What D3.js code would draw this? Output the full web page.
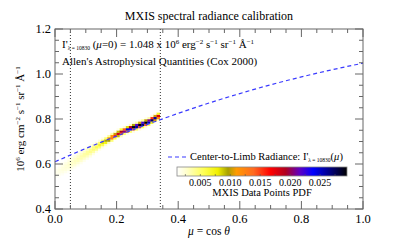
<!DOCTYPE html>
<html><head><meta charset="utf-8">
<script src="https://cdn.jsdelivr.net/npm/d3@7"></script>
<style>
body{margin:0;background:#fff;}
svg{display:block;}
text{font-family:"Liberation Serif","DejaVu Serif",serif;}
</style></head>
<body><svg id="c" width="394" height="244"></svg>
<script>
// ---- data ----
const curveMu = [0,0.1,0.2,0.3,0.4,0.5,0.6,0.7,0.8,0.9,1.0];
const curveI  = [0.610,0.669,0.724,0.776,0.825,0.871,0.913,0.952,0.987,1.019,1.048];
// heat-map columns (mu bins of 0.01 starting at 0)
const colCenter = [0.565,0.572,0.580,0.588,0.596,0.605,0.614,0.623,0.632,0.641,
                   0.650,0.659,0.668,0.677,0.686,0.695,0.703,0.711,0.719,0.727,
                   0.735,0.742,0.748,0.754,0.759,0.764,0.769,0.774,0.779,0.784,
                   0.789,0.797,0.805,0.813];
const colWidth  = [0.028,0.028,0.027,0.026,0.025,0.024,0.023,0.022,0.021,0.020,
                   0.019,0.018,0.016,0.014,0.012,0.011,0.010,0.009,0.009,0.008,
                   0.008,0.008,0.007,0.007,0.007,0.007,0.007,0.007,0.007,0.007,
                   0.007,0.007,0.007,0.008];
const colPeak   = [0.0016,0.0018,0.0020,0.0022,0.0024,0.0026,0.0028,0.0030,0.0032,0.0034,
                   0.0037,0.0040,0.0045,0.0052,0.0062,0.0075,0.0090,0.0110,0.0130,0.0150,
                   0.0170,0.0190,0.0210,0.0230,0.0250,0.0270,0.0280,0.0290,0.0290,0.0280,
                   0.0270,0.0260,0.0240,0.0170];
const xTicks = [0.0,0.2,0.4,0.6,0.8,1.0];
const yTicks = [0.4,0.6,0.8,1.0,1.2];
const cbTicks = [0.005,0.010,0.015,0.020,0.025];
const limbLines = [0.05,0.342];

// ---- layout ----
const svg = d3.select("#c");
const L=55,R=363,T=29,B=209;
const x = d3.scaleLinear().domain([0,1]).range([L,R]);
const y = d3.scaleLinear().domain([0.4,1.2]).range([B,T]);

const cmin = 0.0011, cmax = 0.0295;
const stops = [[0,"#ffffff"],[0.06,"#ffffc8"],[0.16,"#ffff50"],[0.24,"#f0f000"],[0.30,"#a8a000"],
  [0.35,"#ff9a00"],[0.45,"#ff6a20"],[0.55,"#ff0000"],[0.64,"#b00020"],[0.72,"#6000c0"],
  [0.80,"#0000ff"],[0.90,"#000080"],[1,"#000000"]];
const color = d3.scaleLinear().domain(stops.map(s=>cmin+s[0]*(cmax-cmin))).range(stops.map(s=>s[1])).clamp(true);

// heat map cells
const cells=[];
const dI=0.01, dMu=0.01;
colCenter.forEach((c,i)=>{
  for(let v=0.50; v<0.86; v+=dI){
    const d=(v+dI/2)-c, w=colWidth[i];
    const val=colPeak[i]*Math.exp(-d*d/(2*w*w)) + 0.08*colPeak[i]*Math.exp(-d*d/(2*9*w*w));
    if(val>0.0005) cells.push({mu:i*dMu,v:v,val:val});
  }
});
svg.append("g").selectAll("rect").data(cells).join("rect")
  .attr("x",d=>x(d.mu)).attr("y",d=>y(d.v+dI))
  .attr("width",x(dMu)-x(0)+0.3).attr("height",y(0.4)-y(0.4+dI)+0.3)
  .attr("fill",d=>color(d.val));

// dotted limb lines
svg.append("g").selectAll("line").data(limbLines).join("line")
  .attr("x1",d=>x(d)).attr("x2",d=>x(d)).attr("y1",T).attr("y2",B)
  .attr("stroke","#333").attr("stroke-width",1).attr("stroke-dasharray","1,2");

// curve
const line=d3.line().x(d=>x(d[0])).y(d=>y(d[1])).curve(d3.curveMonotoneX);
svg.append("path").datum(curveMu.map((m,i)=>[m,curveI[i]]))
  .attr("d",line).attr("fill","none").attr("stroke","#3a3aff").attr("stroke-width",1.2)
  .attr("stroke-dasharray","4,3");

// axes frame and ticks
const ax=svg.append("g").attr("stroke","#666").attr("fill","none");
ax.append("rect").attr("x",L).attr("y",T).attr("width",R-L).attr("height",B-T).attr("stroke-width",1);
const xMinor=d3.range(0,1.0001,0.05), yMinor=d3.range(0.4,1.2001,0.05);
xMinor.forEach(m=>{
  const major=Math.abs(m/0.2-Math.round(m/0.2))<1e-6;
  const len=major?8:4;
  ax.append("line").attr("x1",x(m)).attr("x2",x(m)).attr("y1",B).attr("y2",B-len);
  ax.append("line").attr("x1",x(m)).attr("x2",x(m)).attr("y1",T).attr("y2",T+len);
});
yMinor.forEach(m=>{
  const major=Math.abs(m/0.2-Math.round(m/0.2))<1e-6;
  const len=major?8:4;
  ax.append("line").attr("y1",y(m)).attr("y2",y(m)).attr("x1",L).attr("x2",L+len);
  ax.append("line").attr("y1",y(m)).attr("y2",y(m)).attr("x1",R).attr("x2",R-len);
});
svg.append("g").selectAll("text").data(xTicks).join("text")
  .attr("x",d=>x(d)).attr("y",B+14).attr("text-anchor","middle").attr("font-size",12.5)
  .text(d=>d.toFixed(1));
svg.append("g").selectAll("text").data(yTicks).join("text")
  .attr("x",L-4).attr("y",d=>y(d)+4).attr("text-anchor","end").attr("font-size",12.5)
  .text(d=>d.toFixed(1));

// title
svg.append("text").attr("x",(L+R)/2).attr("y",20).attr("text-anchor","middle")
  .attr("font-size",12).text("MXIS spectral radiance calibration");

// x label
const xl=svg.append("text").attr("x",(L+R)/2).attr("y",235).attr("text-anchor","middle").attr("font-size",11.5);
xl.append("tspan").attr("font-style","italic").text("μ");
xl.append("tspan").text(" = cos ");
xl.append("tspan").attr("font-style","italic").text("θ");

// y label
const yl=svg.append("text").attr("transform",`translate(24,${(T+B)/2}) rotate(-90)`)
  .attr("text-anchor","middle").attr("font-size",11);
function sup(t,s){t.append("tspan").attr("dy",-4).attr("font-size",7).text(s);}
function base(t,s){t.append("tspan").attr("dy",4).text(s);}
yl.append("tspan").text("10");
sup(yl,"6"); base(yl," erg cm"); sup(yl,"−2"); base(yl," s"); sup(yl,"−1"); base(yl," sr"); sup(yl,"−1"); base(yl," Å"); sup(yl,"−1");

// annotation
const a1=svg.append("text").attr("x",62).attr("y",48).attr("font-size",11);
a1.append("tspan").text("I'");
a1.append("tspan").attr("dy",2).attr("font-size",5.5).text("λ = 10830");
a1.append("tspan").attr("dy",-2).text(" (");
a1.append("tspan").attr("font-style","italic").text("μ");
a1.append("tspan").text("=0) = 1.048 x 10");
sup(a1,"6"); base(a1," erg"); sup(a1,"−2"); base(a1," s"); sup(a1,"−1"); base(a1," sr"); sup(a1,"−1"); base(a1," Å"); sup(a1,"−1");
svg.append("text").attr("x",62).attr("y",65).attr("font-size",11)
  .text("Allen's Astrophysical Quantities (Cox 2000)");

// legend
svg.append("line").attr("x1",168).attr("x2",187).attr("y1",157).attr("y2",157)
  .attr("stroke","#3a3aff").attr("stroke-width",1.2).attr("stroke-dasharray","4,3");
const lg=svg.append("text").attr("x",190).attr("y",160).attr("font-size",10.5);
lg.append("tspan").text("Center-to-Limb Radiance: I'");
lg.append("tspan").attr("dy",2).attr("font-size",5.5).text("λ = 10830");
lg.append("tspan").attr("dy",-2).text("(");
lg.append("tspan").attr("font-style","italic").text("μ");
lg.append("tspan").text(")");

// colorbar
const cb = d3.scaleLinear().domain([cmin,cmax]).range([177,347]);
const defs=svg.append("defs");
const grad=defs.append("linearGradient").attr("id","cbg");
stops.forEach(s=>grad.append("stop").attr("offset",s[0]).attr("stop-color",s[1]));
svg.append("rect").attr("x",cb(cmin)).attr("y",167).attr("width",cb(cmax)-cb(cmin)).attr("height",9)
  .attr("fill","url(#cbg)").attr("stroke","#888").attr("stroke-width",0.8);
svg.append("g").selectAll("line").data(d3.range(0.0025,cmax,0.0025)).join("line")
  .attr("x1",d=>cb(d)).attr("x2",d=>cb(d)).attr("y1",176).attr("y2",174)
  .attr("stroke","#555").attr("stroke-width",0.6);
svg.append("g").selectAll("text").data(cbTicks).join("text")
  .attr("x",d=>cb(d)).attr("y",186).attr("text-anchor","middle").attr("font-size",10)
  .text(d=>d.toFixed(3));
svg.append("text").attr("x",(cb(cmin)+cb(cmax))/2).attr("y",196).attr("text-anchor","middle").attr("font-size",10.5)
  .text("MXIS Data Points PDF");
</script></body></html>
